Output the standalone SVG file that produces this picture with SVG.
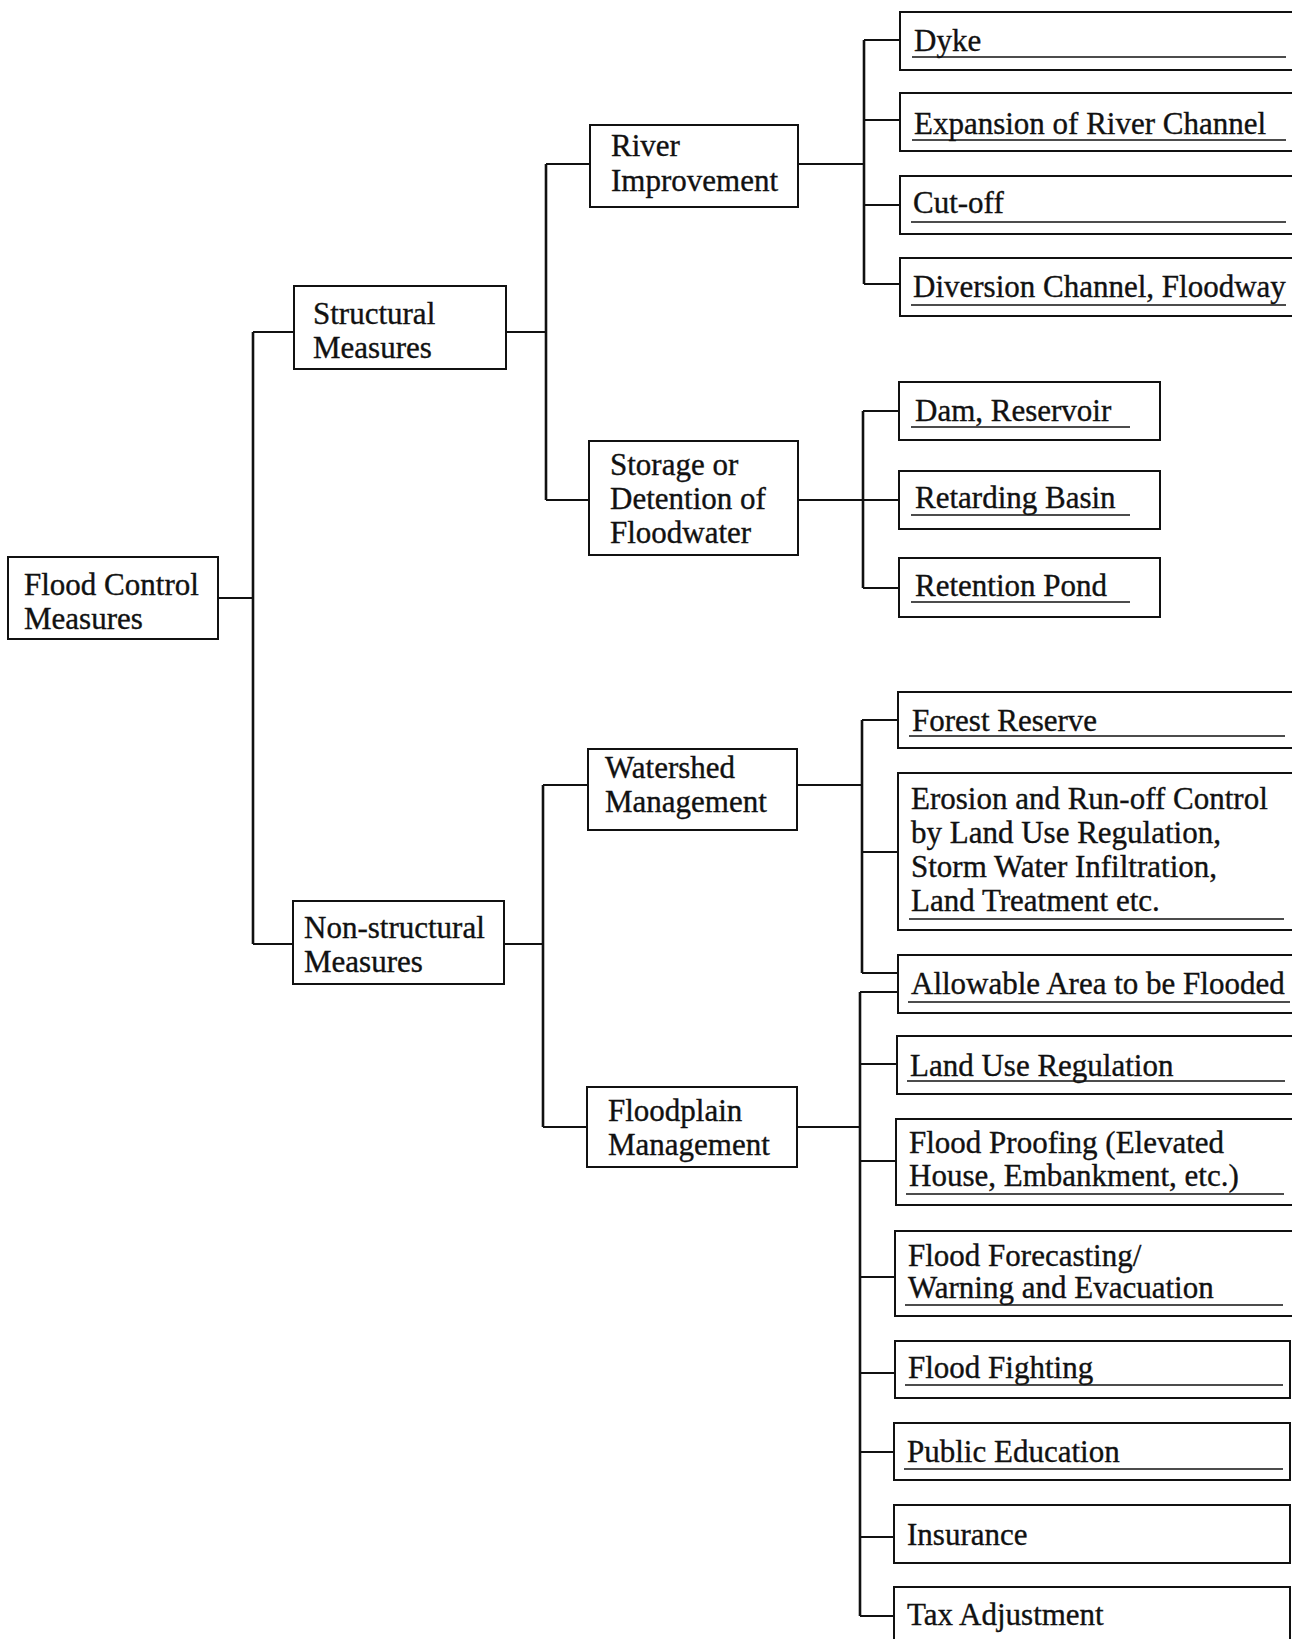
<svg xmlns="http://www.w3.org/2000/svg" width="1292" height="1639" viewBox="0 0 1292 1639">
<style>
.box{fill:#fff;stroke:#111;stroke-width:2}
.t{font-family:"Liberation Serif","Times New Roman",serif;font-size:31px;fill:#111;stroke:#111;stroke-width:0.35}
.u{stroke:#111;stroke-width:1.6;fill:none}
.c{stroke:#111;stroke-width:2;fill:none}
.v{stroke:#111;stroke-width:2.6;fill:none}
</style>
<rect width="1292" height="1639" fill="#fff"/>
<g id="connectors">
<path class="c" d="M218 598H253M253 332H294M253 944H293"/>
<path class="v" d="M253 332V944"/>
<path class="c" d="M506 332H546M546 164H590M546 500H589"/>
<path class="v" d="M546 164V500"/>
<path class="c" d="M798 164H864M864 40H900M864 120H900M864 205H900M864 284H900"/>
<path class="v" d="M864 40V284"/>
<path class="c" d="M798 500H899M863 411H899M863 588H899"/>
<path class="v" d="M863 411V588"/>
<path class="c" d="M504 944H543M543 785H588M543 1127H587"/>
<path class="v" d="M543 785V1127"/>
<path class="c" d="M797 785H862M862 720H898M862 852H898M862 973H898"/>
<path class="v" d="M862 720V973"/>
<path class="c" d="M797 1127H860M860 992H898M860 1064H897M860 1161H896M860 1277H895M860 1373H895M860 1452H894M860 1537H894M860 1616H894"/>
<path class="v" d="M860 992V1616"/>
</g>
<g id="n-flood-control"><rect class="box" x="8" y="557" width="210" height="82"/><text class="t" x="24" y="595">Flood Control</text><text class="t" x="24" y="629">Measures</text></g>
<g id="n-structural"><rect class="box" x="294" y="286" width="212" height="83"/><text class="t" x="313" y="324">Structural</text><text class="t" x="313" y="358">Measures</text></g>
<g id="n-nonstructural"><rect class="box" x="293" y="901" width="211" height="83"/><text class="t" x="304" y="938">Non-structural</text><text class="t" x="304" y="972">Measures</text></g>
<g id="n-river"><rect class="box" x="590" y="125" width="208" height="82"/><text class="t" x="611" y="156">River</text><text class="t" x="611" y="191">Improvement</text></g>
<g id="n-storage"><rect class="box" x="589" y="441" width="209" height="114"/><text class="t" x="610" y="475">Storage or</text><text class="t" x="610" y="509">Detention of</text><text class="t" x="610" y="543">Floodwater</text></g>
<g id="n-watershed"><rect class="box" x="588" y="749" width="209" height="81"/><text class="t" x="605" y="778">Watershed</text><text class="t" x="605" y="812">Management</text></g>
<g id="n-floodplain"><rect class="box" x="587" y="1087" width="210" height="80"/><text class="t" x="608" y="1121">Floodplain</text><text class="t" x="608" y="1155">Management</text></g>
<g id="n-dyke"><rect class="box" x="900" y="12" width="400" height="58"/><text class="t" x="914" y="51">Dyke</text><line class="u" x1="912" y1="57" x2="1286" y2="57"/></g>
<g id="n-expansion"><rect class="box" x="900" y="93" width="400" height="58"/><text class="t" x="914" y="134">Expansion of River Channel</text><line class="u" x1="912" y1="140" x2="1286" y2="140"/></g>
<g id="n-cutoff"><rect class="box" x="900" y="176" width="400" height="58"/><text class="t" x="913" y="213">Cut-off</text><line class="u" x1="911" y1="222" x2="1286" y2="222"/></g>
<g id="n-diversion"><rect class="box" x="900" y="258" width="400" height="58"/><text class="t" x="913" y="297">Diversion Channel, Floodway</text><line class="u" x1="911" y1="305" x2="1286" y2="305"/></g>
<g id="n-dam"><rect class="box" x="899" y="382" width="261" height="58"/><text class="t" x="915" y="421">Dam, Reservoir</text><line class="u" x1="911" y1="427" x2="1130" y2="427"/></g>
<g id="n-retarding"><rect class="box" x="899" y="471" width="261" height="58"/><text class="t" x="915" y="508">Retarding Basin</text><line class="u" x1="911" y1="515" x2="1130" y2="515"/></g>
<g id="n-retention"><rect class="box" x="899" y="558" width="261" height="59"/><text class="t" x="915" y="596">Retention Pond</text><line class="u" x1="911" y1="602" x2="1130" y2="602"/></g>
<g id="n-forest"><rect class="box" x="898" y="692" width="402" height="56"/><text class="t" x="912" y="731">Forest Reserve</text><line class="u" x1="909" y1="736" x2="1285" y2="736"/></g>
<g id="n-erosion"><rect class="box" x="898" y="773" width="402" height="157"/><text class="t" x="911" y="809">Erosion and Run-off Control</text><text class="t" x="911" y="843">by Land Use Regulation,</text><text class="t" x="911" y="877">Storm Water Infiltration,</text><text class="t" x="911" y="911">Land Treatment etc.</text><line class="u" x1="909" y1="919" x2="1284" y2="919"/></g>
<g id="n-allowable"><rect class="box" x="898" y="955" width="402" height="58"/><text class="t" x="911" y="994">Allowable Area to be Flooded</text><line class="u" x1="908" y1="1002" x2="1290" y2="1002"/></g>
<g id="n-landuse"><rect class="box" x="897" y="1036" width="403" height="58"/><text class="t" x="910" y="1076">Land Use Regulation</text><line class="u" x1="907" y1="1081" x2="1285" y2="1081"/></g>
<g id="n-proofing"><rect class="box" x="896" y="1119" width="404" height="86"/><text class="t" x="909" y="1153">Flood Proofing (Elevated</text><text class="t" x="909" y="1186">House, Embankment, etc.)</text><line class="u" x1="906" y1="1194" x2="1284" y2="1194"/></g>
<g id="n-forecasting"><rect class="box" x="895" y="1231" width="405" height="85"/><text class="t" x="908" y="1266">Flood Forecasting/</text><text class="t" x="908" y="1298">Warning and Evacuation</text><line class="u" x1="905" y1="1305" x2="1283" y2="1305"/></g>
<g id="n-fighting"><rect class="box" x="895" y="1341" width="395" height="57"/><text class="t" x="908" y="1378">Flood Fighting</text><line class="u" x1="905" y1="1385" x2="1283" y2="1385"/></g>
<g id="n-public"><rect class="box" x="894" y="1423" width="396" height="57"/><text class="t" x="907" y="1462">Public Education</text><line class="u" x1="904" y1="1469" x2="1283" y2="1469"/></g>
<g id="n-insurance"><rect class="box" x="894" y="1505" width="396" height="58"/><text class="t" x="907" y="1545">Insurance</text></g>
<g id="n-tax"><rect class="box" x="894" y="1587" width="396" height="70"/><text class="t" x="907" y="1625">Tax Adjustment</text></g>
</svg>
